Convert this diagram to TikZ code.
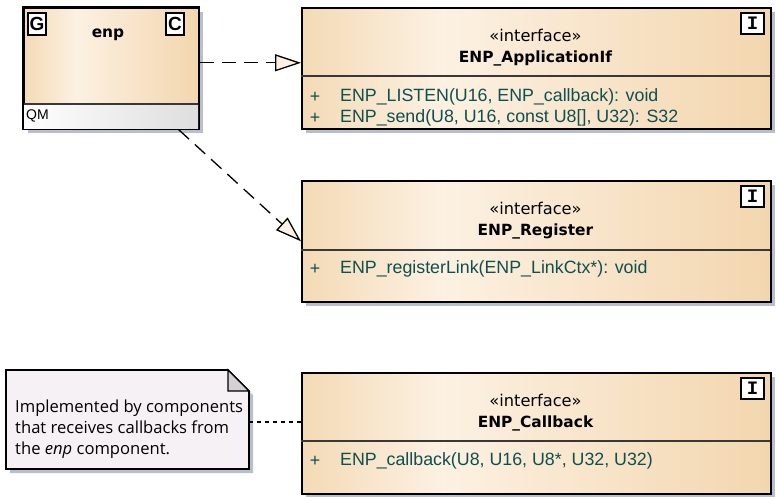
\documentclass[tikz,border=0pt]{standalone}
\usepackage{fontspec}
\setmainfont{DejaVu Sans}
\newfontfamily\notefont{Open Sans}
\newfontfamily\iconfont{Liberation Sans}
\newfontfamily\ifacefont{Liberation Mono}
\usetikzlibrary{arrows.meta,positioning,shadows}

\definecolor{peachL}{HTML}{F4DAB6}
\definecolor{peachM}{HTML}{FCF1E2}
\definecolor{peachR}{HTML}{F3D6AE}
\definecolor{shadowc}{HTML}{B8BDD0}
\definecolor{opcol}{HTML}{0F4F4F}
\definecolor{notefill}{HTML}{F5F1F5}
\definecolor{foldfill}{HTML}{D4D0D4}
\definecolor{qmgrey}{HTML}{DEDEDE}
\definecolor{sepcol}{HTML}{383838}

\pgfdeclarehorizontalshading{classfill}{100bp}{color(0bp)=(peachL); color(25bp)=(peachL); color(40bp)=(peachM); color(75bp)=(peachR); color(100bp)=(peachR)}

\tikzset{
	umlshadow/.style={drop shadow={fill=shadowc, opacity=1, shadow xshift=4pt, shadow yshift=-4pt}},
	classbox/.style={draw, line width=1.6pt, anchor=north west, shading=classfill, umlshadow},
	ifacebox/.style={classbox, minimum width=469pt, minimum height=121pt},
	sepline/.style={draw=sepcol, line width=1.2pt},
	stereo/.style={font=\fontsize{16.2}{19}\selectfont},
	ifname/.style={font=\bfseries\fontsize{15.4}{18}\selectfont},
	oper/.style={anchor=west, text=opcol, inner sep=0pt, font=\iconfont\fontsize{17.8}{20}\selectfont},
	vis/.style={text=opcol, inner sep=0pt, font=\iconfont\fontsize{17.8}{20}\selectfont},
	iconbox/.style={draw, fill=white, line width=1.2pt, inner sep=0pt},
	realize/.style={line width=1.3pt, dash pattern=on 14pt off 8pt, -{Triangle[open, fill=peachM, length=26pt, width=17pt, line width=1.3pt]}},
	notelink/.style={line width=1.2pt, dash pattern=on 4pt off 4pt}
}

\begin{document}
\begin{tikzpicture}[x=1pt, y=-1pt]
	\useasboundingbox (0,0) rectangle (777,496);

	\node[classbox, minimum width=175pt, minimum height=121pt] (enp) at (23,7) {};
	\shade[left color=white, right color=qmgrey] (23,104) rectangle (198,128);
	\draw[sepline] (23,104) -- (198,104);
	\draw[line width=1.6pt] (enp.north west) rectangle (enp.south east);
	\node[iconbox, minimum width=18pt, minimum height=22pt, font=\iconfont\bfseries\fontsize{19}{19}\selectfont] (g) at (37,24) {G};
	\node[iconbox, minimum width=18pt, minimum height=22pt, font=\iconfont\bfseries\fontsize{19}{19}\selectfont] (c) at (175,24) {C};
	\node[ifname] (enpname) at (108,35) {enp};
	\node[anchor=west, inner sep=0pt, font=\iconfont\fontsize{14}{16}\selectfont] (qm) at (26,116) {QM};

	\node[ifacebox] (apif) at (301,7) {};
	\draw[sepline] (301,76) -- (770,76);
	\node[iconbox, minimum width=23pt, minimum height=21pt, font=\ifacefont\bfseries\fontsize{19}{19}\selectfont] (apifi) at (752.5,23.5) {I};
	\node[stereo] (apifst) at (535.5,35) {«interface»};
	\node[ifname] (apifname) at (535.5,58) {ENP\_ApplicationIf};
	\node[vis] (apifv1) at (315,97) {+};
	\node[oper] (apifop1) at (340,97) {ENP\_LISTEN(U16, ENP\_callback): void};
	\node[vis] (apifv2) at (315,118) {+};
	\node[oper] (apifop2) at (340,118) {ENP\_send(U8, U16, const U8[], U32): S32};

	\node[ifacebox] (reg) at (301,180) {};
	\draw[sepline] (301,250) -- (770,250);
	\node[iconbox, minimum width=23pt, minimum height=21pt, font=\ifacefont\bfseries\fontsize{19}{19}\selectfont] (regi) at (752.5,196.5) {I};
	\node[stereo] (regst) at (535.5,208) {«interface»};
	\node[ifname] (regname) at (535.5,231) {ENP\_Register};
	\node[vis] (regv1) at (315,269) {+};
	\node[oper] (regop1) at (340,269) {ENP\_registerLink(ENP\_LinkCtx*): void};

	\node[ifacebox] (cb) at (301,372) {};
	\draw[sepline] (301,441) -- (770,441);
	\node[iconbox, minimum width=23pt, minimum height=21pt, font=\ifacefont\bfseries\fontsize{19}{19}\selectfont] (cbi) at (752.5,388.5) {I};
	\node[stereo] (cbst) at (535.5,400) {«interface»};
	\node[ifname] (cbname) at (535.5,423) {ENP\_Callback};
	\node[vis] (cbv1) at (315,461) {+};
	\node[oper] (cbop1) at (340,461) {ENP\_callback(U8, U16, U8*, U32, U32)};

	\fill[shadowc] (10,374) -- (232,374) -- (253,395) -- (253,473) -- (10,473) -- cycle;
	\draw[line width=1.6pt, fill=notefill] (6,370) -- (228,370) -- (249,391) -- (249,469) -- (6,469) -- cycle;
	\draw[line width=1.2pt, fill=foldfill] (228,370) -- (228,391) -- (249,391) -- cycle;
	\node[anchor=west, align=left, inner sep=0pt, font=\notefont\fontsize{16.6}{21}\selectfont] (note) at (15,429) {Implemented by components\\that receives callbacks from\\the \textit{enp} component.};
	\coordinate (notedge) at (249,422);

	\draw[realize] ([yshift=5.5pt]enp.east) -- ([yshift=5.5pt]apif.west);
	\draw[realize] ([xshift=-21pt]enp.south east) -- (reg.west);
	\draw[notelink] (notedge) -- (cb.west |- notedge);
\end{tikzpicture}
\end{document}
